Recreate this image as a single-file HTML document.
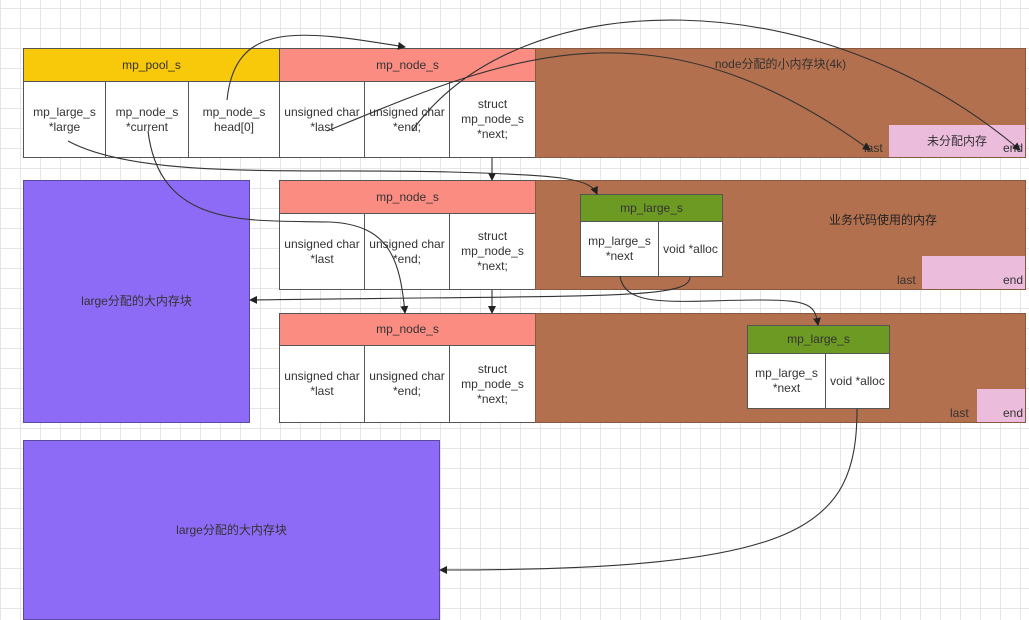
<!DOCTYPE html>
<html><head><meta charset="utf-8"><style>
body{margin:0;width:1029px;height:618px;overflow:hidden;position:relative;background-color:#fff;
background-image:linear-gradient(#e6e6e6 1px,transparent 1px),linear-gradient(90deg,#e6e6e6 1px,transparent 1px);background-size:20px 20px;background-position:0 8px;
font-family:"Liberation Sans","Noto Sans CJK SC",sans-serif;font-size:12px;color:#333}
.b{position:absolute;box-sizing:border-box;border:1px solid #555;display:flex;align-items:center;justify-content:center;text-align:center;line-height:15px}
.w{background:#fff}.y{background:#f8c80b}.r{background:#fb8c82}.br{background:#b3704e;border-color:#8a5a40}
.g{background:#6d9a23}.p{background:#ecbcdc;border:none}.pu{background:#8d6bf6;border-color:#5a49a0}
.t{position:absolute;font-size:12px}
</style></head><body>
<!-- row1 -->
<div class="b y" style="left:23px;top:48px;width:257px;height:34px">mp_pool_s</div>
<div class="b r" style="left:279px;top:48px;width:257px;height:34px">mp_node_s</div>
<div class="b w" style="left:23px;top:81px;width:83px;height:77px">mp_large_s<br>*large</div>
<div class="b w" style="left:105px;top:81px;width:84px;height:77px">mp_node_s<br>*current</div>
<div class="b w" style="left:188px;top:81px;width:92px;height:77px">mp_node_s<br>head[0]</div>
<div class="b w" style="left:279px;top:81px;width:86px;height:77px">unsigned char<br>*last</div>
<div class="b w" style="left:364px;top:81px;width:86px;height:77px">unsigned char<br>*end;</div>
<div class="b w" style="left:449px;top:81px;width:87px;height:77px">struct<br>mp_node_s<br>*next;</div>
<div class="b br" style="left:535px;top:48px;width:491px;height:110px;align-items:flex-start;padding-top:8px">node分配的小内存块(4k)</div>
<div class="b p" style="left:889px;top:125px;width:136px;height:32px">未分配内存</div>
<div class="t" style="left:864px;top:141px">last</div><div class="t" style="left:1003px;top:141px">end</div>
<!-- row2 -->
<div class="b r" style="left:279px;top:180px;width:257px;height:34px">mp_node_s</div>
<div class="b w" style="left:279px;top:213px;width:86px;height:77px">unsigned char<br>*last</div>
<div class="b w" style="left:364px;top:213px;width:86px;height:77px">unsigned char<br>*end;</div>
<div class="b w" style="left:449px;top:213px;width:87px;height:77px">struct<br>mp_node_s<br>*next;</div>
<div class="b br" style="left:535px;top:180px;width:491px;height:110px"></div>
<div class="t" style="left:829px;top:211px;color:#222">业务代码使用的内存</div>
<div class="b p" style="left:922px;top:256px;width:103px;height:33px"></div>
<div class="t" style="left:897px;top:273px">last</div><div class="t" style="left:1003px;top:273px">end</div>
<div class="b g" style="left:580px;top:194px;width:143px;height:28px">mp_large_s</div>
<div class="b w" style="left:580px;top:221px;width:79px;height:56px">mp_large_s<br>*next</div>
<div class="b w" style="left:658px;top:221px;width:65px;height:56px">void *alloc</div>
<!-- row3 -->
<div class="b r" style="left:279px;top:313px;width:257px;height:33px">mp_node_s</div>
<div class="b w" style="left:279px;top:345px;width:86px;height:78px">unsigned char<br>*last</div>
<div class="b w" style="left:364px;top:345px;width:86px;height:78px">unsigned char<br>*end;</div>
<div class="b w" style="left:449px;top:345px;width:87px;height:78px">struct<br>mp_node_s<br>*next;</div>
<div class="b br" style="left:535px;top:313px;width:491px;height:110px"></div>
<div class="b p" style="left:977px;top:389px;width:48px;height:33px"></div>
<div class="t" style="left:950px;top:406px">last</div><div class="t" style="left:1003px;top:406px">end</div>
<div class="b g" style="left:747px;top:325px;width:143px;height:29px">mp_large_s</div>
<div class="b w" style="left:747px;top:353px;width:79px;height:56px">mp_large_s<br>*next</div>
<div class="b w" style="left:825px;top:353px;width:65px;height:56px">void *alloc</div>
<!-- purple -->
<div class="b pu" style="left:23px;top:180px;width:227px;height:243px">large分配的大内存块</div>
<div class="b pu" style="left:23px;top:440px;width:417px;height:180px">large分配的大内存块</div>
<svg style="position:absolute;left:0;top:0" width="1029" height="618">
<defs><marker id="a" markerWidth="8" markerHeight="8" refX="7" refY="4" orient="auto" markerUnits="userSpaceOnUse"><path d="M0,0 L8,4 L0,8z" fill="#222"/></marker></defs>
<g fill="none" stroke="#333" stroke-width="1.1" marker-end="url(#a)">
<path d="M227,100 C235,20 300,30 405,47"/>
<path d="M327,131 C500,60 650,-10 870,150"/>
<path d="M412,131 C520,-20 820,-20 1020,150"/>
<path d="M492,158 L492,180"/>
<path d="M492,290 L492,313"/>
<path d="M68,141 C140,180 300,168 450,172 C560,175 590,178 597,194"/>
<path d="M148,131 C160,230 250,220 330,222 C390,225 400,260 405,313"/>
<path d="M690,277 C690,300 600,295 250,300"/>
<path d="M620,276 C625,310 680,300 760,300 C810,300 815,305 818,325"/>
<path d="M857,409 C857,530 800,570 440,570"/>
</g></svg>
</body></html>
